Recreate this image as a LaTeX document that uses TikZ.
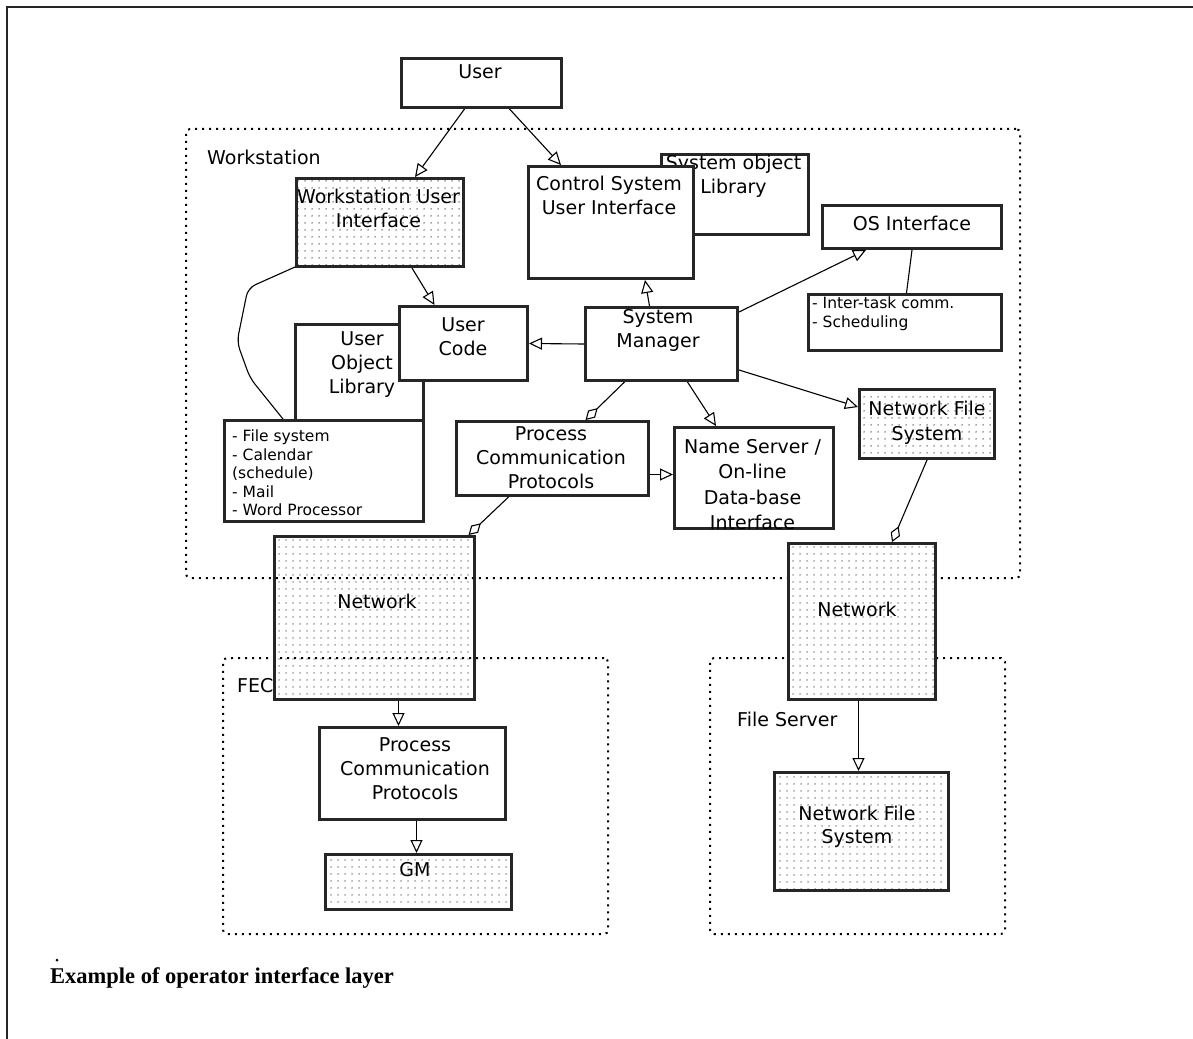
\documentclass[tikz,border=0pt]{standalone}
\usepackage{fontspec}
\newfontfamily\geneva{DejaVu Sans}
\newfontfamily\capserif{Liberation Serif}
\usetikzlibrary{arrows.meta,patterns.meta,calc}

\begin{document}
\begin{tikzpicture}[x=1pt, y=-1pt,
  box/.style={draw=black!85, line width=3pt, fill=white, inner sep=0pt, anchor=north west},
  dotbox/.style={draw=black!85, line width=3pt, inner sep=0pt, anchor=north west,
                 pattern={Dots[radius=0.75pt, distance=6.5pt]}, pattern color=black!85},
  wfill/.style={preaction={fill=white}},
  area/.style={draw=black, line width=2pt, dash pattern=on 2pt off 5pt,
               rounded corners=4pt, inner sep=0pt, anchor=north west},
  txt/.style={font=\geneva\fontsize{19}{24}\selectfont, inner sep=0pt, align=center, anchor=north},
  small/.style={font=\geneva\fontsize{15.5}{19}\selectfont, inner sep=0pt, align=left, anchor=north west},
  tag/.style={font=\geneva\fontsize{19}{24}\selectfont, inner sep=0pt, anchor=west},
  link/.style={line width=1.1pt, black},
  arr/.style={link, -{Triangle[open, length=13pt, width=12pt]}},
  agg/.style={link, -{Diamond[open, length=17pt, width=10pt]}},
]
\useasboundingbox (0,0) rectangle (1193,1038);

% page frame
\draw[line width=2pt, black!85] (7,1045) -- (7,7) -- (1200,7);

% machine areas
\node[area, minimum width=834pt, minimum height=449pt] (ws) at (185,128) {};
\node[area, minimum width=385pt, minimum height=276pt] (fec) at (222,657) {};
\node[area, minimum width=295pt, minimum height=276pt] (fs) at (709,657) {};
\node[tag] (wslbl) at (207,157) {Workstation};
\node[tag] (feclbl) at (237,686) {FEC};
\node[tag] (fslbl) at (737,719) {File Server};

% user
\node[box, minimum width=160pt, minimum height=49pt] (user) at (400,57) {};
\node[txt] (usertxt) at (480,64) {User};

% system object library behind the control system UI
\node[box, minimum width=147pt, minimum height=80pt] (sol) at (660,153) {};
\begin{scope}
  \clip (sol.north west) rectangle (sol.south east);
  \node[txt] (soltxt) at (733.5,155) {System object\\Library};
\end{scope}
\node[box, minimum width=165pt, minimum height=112pt] (csui) at (527,165) {};
\node[txt] (csuitxt) at (609,176) {Control System\\User Interface};

% workstation user interface
\node[dotbox, wfill, minimum width=167pt, minimum height=88pt] (wui) at (295,177) {};
\begin{scope}
  \clip (wui.north west) rectangle (wui.south east);
  \node[txt] (wuitxt) at (378.5,189) {Workstation User\\Interface};
\end{scope}

% OS interface
\node[box, minimum width=179pt, minimum height=43pt] (osi) at (821,204) {};
\node[txt] (ositxt) at (912,216) {OS Interface};
\node[box, minimum width=193pt, minimum height=56pt] (itc) at (807,293) {};
\node[small] (itctxt) at (812,297) {- Inter-task comm.\\- Scheduling};

% user object library, its contents, user code
\node[box, minimum width=128pt, minimum height=96pt] (uol) at (294,323) {};
\node[txt] (uoltxt) at (362,331) {User\\Object\\Library};
\node[box, minimum width=199pt, minimum height=101pt] (lst) at (223,419) {};
\begin{scope}
  \clip ($(lst.north west)+(1.5,1.5)$) rectangle ($(lst.south east)+(-1.5,-1.5)$);
  \node[small, font=\geneva\fontsize{15.5}{18.5}\selectfont] (lsttxt) at (232,430)
    {- File system\\- Calendar\\(schedule)\\- Mail\\- Word Processor};
\end{scope}
\node[box, minimum width=128pt, minimum height=74pt] (uc) at (398,305) {};
\node[txt] (uctxt) at (463,317) {User\\Code};

% system manager
\node[box, minimum width=152pt, minimum height=73pt] (sm) at (584,306) {};
\node[txt] (smtxt) at (658,309) {System\\Manager};

% protocols and name server
\node[box, minimum width=192pt, minimum height=74pt] (pcw) at (455,420) {};
\node[txt] (pcwtxt) at (551,426) {Process\\Communication\\Protocols};
\node[box, minimum width=159pt, minimum height=101pt] (ns) at (673,426) {};
\begin{scope}
  \clip ($(ns.north west)+(1.5,1.5)$) rectangle ($(ns.south east)+(-1.5,-1.5)$);
  \node[txt, font=\geneva\fontsize{19}{25.5}\selectfont] (nstxt) at (752.5,439)
    {Name Server /\\On-line\\Data-base\\Interface};
\end{scope}

% network file system (workstation side)
\node[dotbox, wfill, minimum width=135pt, minimum height=69pt] (nfsw) at (858,388) {};
\begin{scope}
  \clip (nfsw.north west) rectangle (nfsw.south east);
  \node[txt, font=\geneva\fontsize{19}{25}\selectfont] (nfswtxt) at (927,401) {Network File\\System};
\end{scope}

% networks
\node[dotbox, minimum width=200pt, minimum height=163pt] (netl) at (273,535) {};
\node[txt] (netltxt) at (377,594) {Network};
\node[dotbox, wfill, minimum width=147pt, minimum height=156pt] (netr) at (787,542) {};
\node[txt] (netrtxt) at (857,602) {Network};

% FEC side
\node[box, minimum width=186pt, minimum height=92pt] (pcf) at (318,726) {};
\node[txt] (pcftxt) at (415,737) {Process\\Communication\\Protocols};
\node[dotbox, wfill, minimum width=186pt, minimum height=55pt] (gm) at (324,853) {};
\node[txt, anchor=center] (gmtxt) at (415,870) {GM};

% file server side
\node[dotbox, wfill, minimum width=174pt, minimum height=118pt] (nfsf) at (773,771) {};
\node[txt, font=\geneva\fontsize{19}{23}\selectfont] (nfsftxt) at (857,806) {Network File\\System};

% connectors
\draw[arr] ([xshift=-17pt]user.south) -- ([xshift=35pt]wui.north);
\draw[arr] ([xshift=28pt]user.south) -- ([xshift=-50pt]csui.north);
\draw[arr] ([xshift=32pt]wui.south) -- ([xshift=-29pt]uc.north);
\draw[arr] ([xshift=-12pt]sm.north) -- ([xshift=34pt]csui.south);
\draw[arr] (sm.west) -- (uc.east);
\draw[arr] ([yshift=-6pt]sm.north east) -- ([xshift=-46pt]osi.south);
\draw[agg] ([xshift=-37pt]sm.south) -- ([xshift=33pt]pcw.north);
\draw[arr] ([xshift=26pt]sm.south) -- ([xshift=-38pt]ns.north);
\draw[arr] ([yshift=-64pt]sm.north east) -- ([yshift=-19pt]nfsw.north west);
\draw[arr] ([yshift=-16pt]pcw.east) -- ([yshift=3.5pt]ns.west);
\draw[agg] ([xshift=-44pt]pcw.south) -- ([xshift=94pt]netl.north);
\draw[agg] (nfsw.south) -- ([xshift=30pt]netr.north);
\draw[arr] ([xshift=24pt]netl.south) -- ([xshift=-14pt]pcf.north);
\draw[arr] ([xshift=4pt]pcf.south) -- ([xshift=-2pt]gm.north);
\draw[arr] ([xshift=-3.5pt]netr.south) -- ([xshift=-3pt]nfsf.north);
\draw[link] (osi.south) -- ([xshift=1.5pt]itc.north);
\draw[link, rounded corners=8pt] ([yshift=1pt]wui.south west) -- (248,288) -- (237,342)
  -- (250,378) -- ([xshift=60pt]lst.north west);

% caption
\node[circle, fill=black, inner sep=0pt, minimum size=3pt] (bullet) at (57,960) {};
\node[font=\capserif\bfseries\fontsize{22.5}{27}\selectfont, anchor=base west, inner sep=0pt]
  (caption) at (50,983) {Example of operator interface layer};
\end{tikzpicture}
\end{document}
